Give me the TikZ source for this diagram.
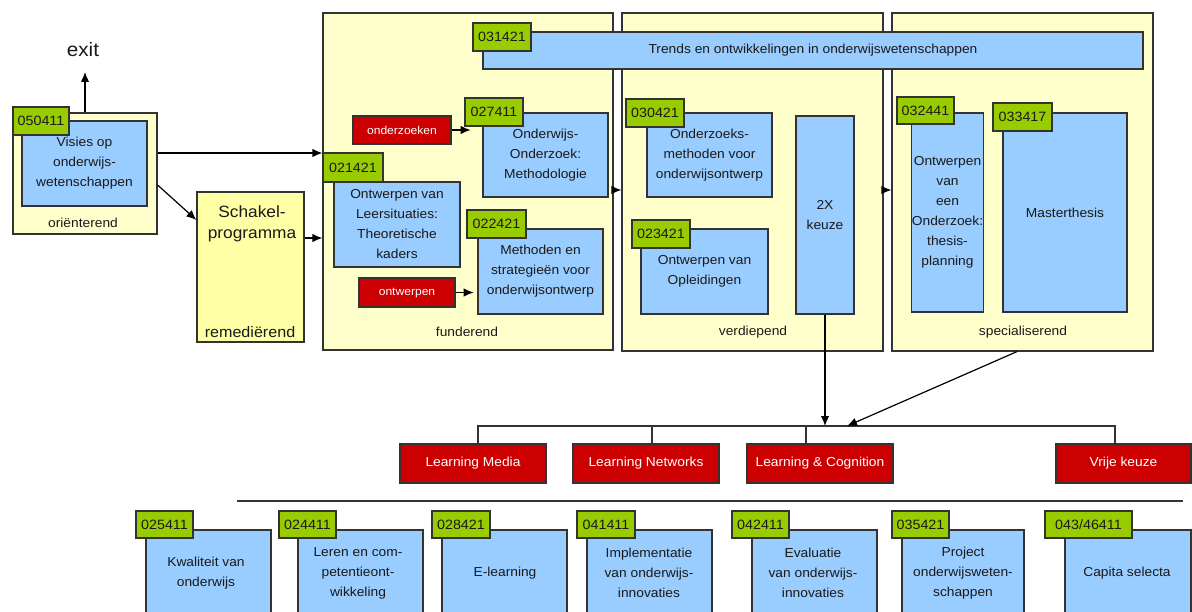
\documentclass[tikz,border=0pt]{standalone}
\usepackage{fontspec}
\setmainfont{Liberation Sans}[FakeStretch=1.06]
\usetikzlibrary{arrows.meta}
\definecolor{ylw}{HTML}{FFFFCC}
\definecolor{ylwb}{HTML}{FFFFA6}
\definecolor{blu}{HTML}{99CCFF}
\definecolor{grn}{HTML}{99CC00}
\definecolor{rd}{HTML}{CC0000}
\definecolor{bordc}{HTML}{333333}
\definecolor{txtc}{HTML}{1A1A1A}
\begin{document}
\begin{tikzpicture}[x=1pt,y=-1pt,
  cont/.style={draw=bordc, line width=1.2pt, fill=ylw, inner sep=0pt},
  bbox/.style={draw=bordc, line width=1.2pt, fill=blu, inner sep=0pt, text=txtc, align=center, font=\fontsize{13}{20}\selectfont},
  tag/.style={draw=bordc, line width=1.2pt, fill=grn, inner sep=0pt, text=txtc, font=\fontsize{13.5}{14}\selectfont},
  rbox/.style={draw=bordc, line width=1.2pt, fill=rd, inner sep=0pt, text=white},
  lbl/.style={text=txtc, align=center, inner sep=0pt, font=\fontsize{13}{20}\selectfont},
  arr/.style={-{Latex[length=10pt,width=8.5pt]}, line width=1.2pt, draw=black},
  conn/.style={line width=1.2pt, draw=bordc},
]
\useasboundingbox (0,0) rectangle (1192,612);
\clip (0,0) rectangle (1192,612);
\fill[white] (0,0) rectangle (1192,612);

% containers
\node[cont, minimum width=144pt, minimum height=121pt] (ori) at (85,173.5) {};
\node[cont, fill=ylwb, minimum width=107pt, minimum height=150pt] (schakel) at (250.5,267) {};
\node[cont, minimum width=290pt, minimum height=337pt] (fund) at (468,181.5) {};
\node[cont, minimum width=261pt, minimum height=338pt] (verd) at (752.5,182) {};
\node[cont, minimum width=261pt, minimum height=338pt] (spec) at (1022.5,182) {};

% container labels
\node[lbl, font=\fontsize{19.5}{20}\selectfont] (exit) at (83,50) {exit};
\node[lbl] (oriL) at (83,223) {oriënterend};
\node[lbl, font=\fontsize{16.3}{21}\selectfont] (schakelT) at (252,223.5) {Schakel-\\programma};
\node[lbl, font=\fontsize{15.2}{20}\selectfont] (remL) at (250,332) {remediërend};
\node[lbl] (fundL) at (467,332) {funderend};
\node[lbl] (verdL) at (753,332) {verdiepend};
\node[lbl] (specL) at (1023,332) {specialiserend};

% blue boxes
\node[bbox, minimum width=125pt, minimum height=85pt] (visies) at (84.5,163.5) {Visies op\\onderwijs-\\wetenschappen};
\node[bbox, minimum width=660pt, minimum height=37pt] (trends) at (813,50.5) {Trends en ontwikkelingen in onderwijswetenschappen};
\node[bbox, minimum width=125pt, minimum height=84pt] (b027411) at (545.5,155) {Onderwijs-\\Onderzoek:\\Methodologie};
\node[bbox, minimum width=126pt, minimum height=85pt] (b021421) at (397,224.5) {Ontwerpen van\\Leersituaties:\\Theoretische\\kaders};
\node[bbox, minimum width=125pt, minimum height=85pt] (b022421) at (540.5,271.5) {Methoden en\\strategieën voor\\onderwijsontwerp};
\node[bbox, minimum width=125pt, minimum height=84pt] (b030421) at (709.5,155) {Onderzoeks-\\methoden voor\\onderwijsontwerp};
\node[bbox, minimum width=127pt, minimum height=85pt] (b023421) at (704.5,271.5) {Ontwerpen van\\Opleidingen};
\node[bbox, minimum width=58pt, minimum height=198pt] (keuze) at (825,215) {2X\\keuze};
\node[bbox, minimum width=71pt, minimum height=199pt] (b032441) at (947.5,212.5) {Ontwerpen\\van\\een\\Onderzoek:\\thesis-\\planning};
\node[bbox, minimum width=124pt, minimum height=199pt] (b033417) at (1065,212.5) {Masterthesis};

% bottom blue boxes
\node[bbox, minimum width=125pt, minimum height=90pt] (b025411) at (208.5,575) {};
\node[bbox, minimum width=125pt, minimum height=90pt] (b024411) at (360.5,575) {};
\node[bbox, minimum width=125pt, minimum height=90pt] (b028421) at (504.5,575) {};
\node[bbox, minimum width=125pt, minimum height=90pt] (b041411) at (649.5,575) {};
\node[bbox, minimum width=125pt, minimum height=90pt] (b042411) at (814.5,575) {};
\node[bbox, minimum width=122pt, minimum height=90pt] (b035421) at (963,575) {};
\node[bbox, minimum width=126pt, minimum height=90pt] (b043) at (1128,575) {};
\node[lbl] (t1) at (206,573) {Kwaliteit van\\onderwijs};
\node[lbl] (t2) at (358,573) {Leren en com-\\petentieont-\\wikkeling};
\node[lbl] (t3) at (505,573) {E-learning};
\node[lbl] (t4) at (649,573) {Implementatie\\van onderwijs-\\innovaties};
\node[lbl] (t5) at (813,573) {Evaluatie\\van onderwijs-\\innovaties};
\node[lbl] (t6) at (963,573) {Project\\onderwijsweten-\\schappen};
\node[lbl] (t7) at (1127,573) {Capita selecta};

% tags
\node[tag, minimum width=56pt, minimum height=28pt] (g050411) at (41,121) {050411};
\node[tag, minimum width=58pt, minimum height=28pt] (g031421) at (502,37) {031421};
\node[tag, minimum width=58pt, minimum height=28pt] (g027411) at (494,112) {027411};
\node[tag, minimum width=60pt, minimum height=29pt] (g021421) at (353,167.5) {021421};
\node[tag, minimum width=59pt, minimum height=28pt] (g022421) at (496.5,224) {022421};
\node[tag, minimum width=58pt, minimum height=28pt] (g030421) at (655,113) {030421};
\node[tag, minimum width=58pt, minimum height=28pt] (g023421) at (661,234) {023421};
\node[tag, minimum width=57pt, minimum height=27pt] (g032441) at (925.5,110.5) {032441};
\node[tag, minimum width=59pt, minimum height=28pt] (g033417) at (1022.5,117) {033417};
\node[tag, minimum width=57pt, minimum height=27pt] (g025411) at (164.5,524.5) {025411};
\node[tag, minimum width=57pt, minimum height=27pt] (g024411) at (307.5,524.5) {024411};
\node[tag, minimum width=58pt, minimum height=27pt] (g028421) at (461,524.5) {028421};
\node[tag, minimum width=58pt, minimum height=27pt] (g041411) at (606,524.5) {041411};
\node[tag, minimum width=57pt, minimum height=27pt] (g042411) at (760.5,524.5) {042411};
\node[tag, minimum width=57pt, minimum height=27pt] (g035421) at (920.5,524.5) {035421};
\node[tag, minimum width=87pt, minimum height=27pt] (g043) at (1088.5,524.5) {043/46411};

% red boxes
\node[rbox, minimum width=98pt, minimum height=28pt, font=\fontsize{11.4}{12}\selectfont] (onderzoeken) at (402,130) {onderzoeken};
\node[rbox, minimum width=96pt, minimum height=29pt, font=\fontsize{11.4}{12}\selectfont] (ontwerpen) at (407,292.5) {ontwerpen};
\node[rbox, minimum width=146pt, minimum height=39pt, font=\fontsize{13}{14}\selectfont] (LM) at (473,463.5) {Learning Media};
\node[rbox, minimum width=146pt, minimum height=39pt, font=\fontsize{13}{14}\selectfont] (LN) at (646,463.5) {Learning Networks};
\node[rbox, minimum width=146pt, minimum height=39pt, font=\fontsize{13}{14}\selectfont] (LC) at (820,463.5) {Learning \& Cognition};
\node[rbox, minimum width=135pt, minimum height=39pt, font=\fontsize{13}{14}\selectfont] (VK) at (1123.5,463.5) {Vrije keuze};

% arrows
\draw[arr] (ori.north) -- (ori.north |- 0,72);
\draw[arr] (ori.east |- 0,153) -- (fund.west |- 0,153);
\draw[arr] (ori.east |- 0,185) -- (schakel.west |- 0,220);
\draw[arr] (schakel.east |- 0,238) -- (fund.west |- 0,238);
\draw[arr] (onderzoeken.east) -- ++(19,0);
\draw[arr] (ontwerpen.east) -- ++(18,0);
\draw[arr] (fund.east |- 0,190) -- (verd.west |- 0,190);
\draw[arr] (verd.east |- 0,190) -- (spec.west |- 0,190);

% bus
\coordinate (bus) at (0,426);
\coordinate (lmtop) at ([xshift=5pt]LM.north);
\coordinate (lntop) at ([xshift=6pt]LN.north);
\coordinate (lctop) at ([xshift=-14pt]LC.north);
\coordinate (vktop) at ([xshift=-8.5pt]VK.north);
\draw[conn] (lmtop) -- (lmtop |- bus) -- (vktop |- bus) -- (vktop);
\draw[conn] (lntop) -- (lntop |- bus);
\draw[conn] (lctop) -- (lctop |- bus);
\coordinate (busR) at (847,426);
\coordinate (specout) at ([xshift=-5.5pt]spec.south);
\draw[arr] (keuze.south) -- (keuze.south |- bus);
\draw[arr] (specout) -- (busR);

% separator
\coordinate (sepL) at (237,501);
\coordinate (sepR) at (1183,501);
\draw[line width=1.2pt, draw=bordc] (sepL) -- (sepR);
\end{tikzpicture}
\end{document}
